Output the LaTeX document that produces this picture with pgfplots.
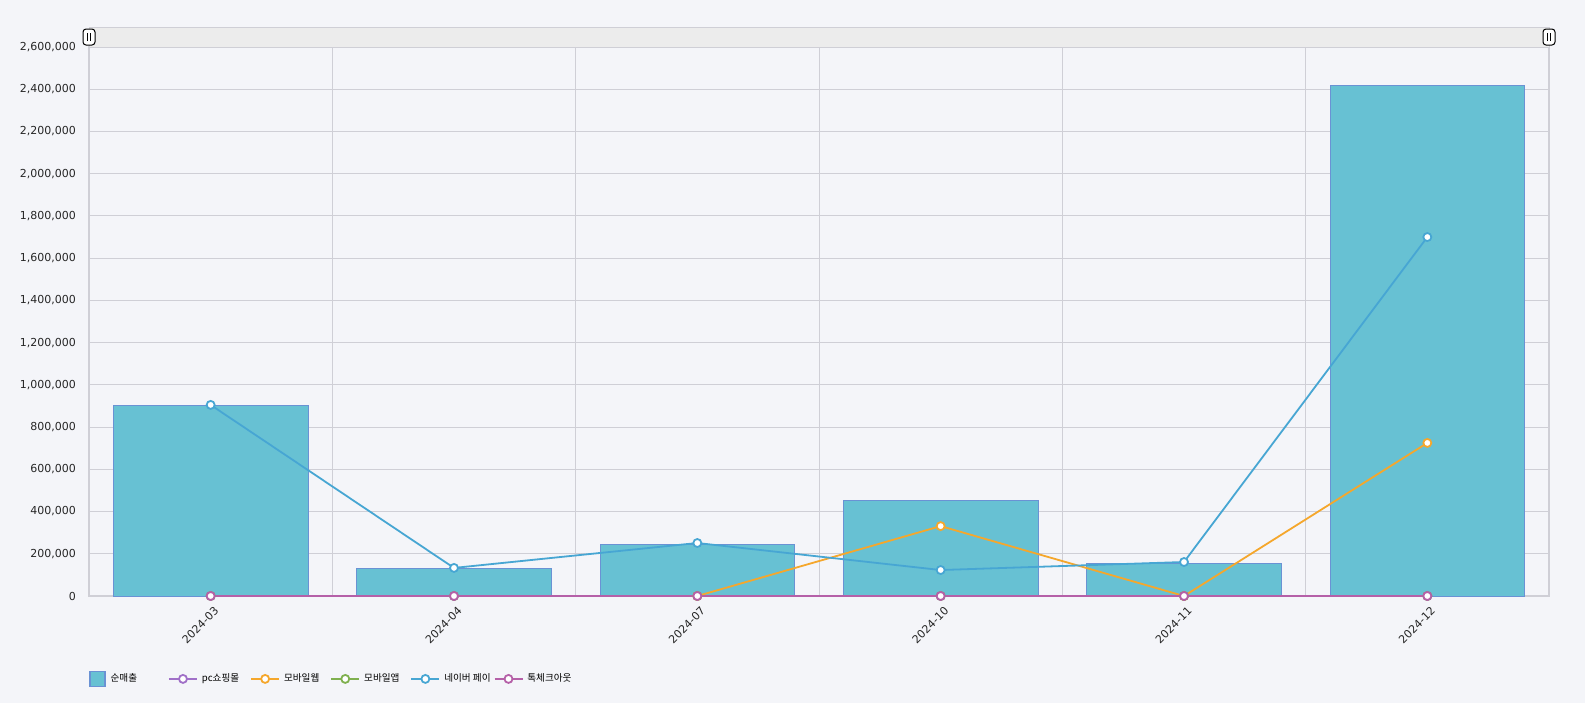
\documentclass[border=0pt]{standalone}
\usepackage{pgfplots}
\pgfplotsset{compat=1.18}
\usepackage{fontspec}
\setmainfont{DejaVu Sans}
\newfontfamily\kr{Noto Sans CJK KR}
\definecolor{bg}{HTML}{F4F5F9}
\definecolor{barfill}{HTML}{67C1D3}
\definecolor{baredge}{HTML}{6A92D4}
\definecolor{naver}{HTML}{47A6D3}
\definecolor{mweb}{HTML}{F5A72C}
\definecolor{mapp}{HTML}{7FB04F}
\definecolor{pcs}{HTML}{A070C8}
\definecolor{talk}{HTML}{B560A8}
\definecolor{gridc}{HTML}{CFCFD6}
\definecolor{scroll}{HTML}{ECECEC}
\begin{document}
\begin{tikzpicture}
\fill[bg] (-44.5pt,-53.5pt) rectangle (748pt,298pt);
\useasboundingbox (-44.5pt,-53.5pt) rectangle (748pt,298pt);
\begin{axis}[
  at={(0,0)}, anchor=south west,
  scale only axis, width=730pt, height=274.5pt,
  xmin=-0.5, xmax=5.5, ymin=0, ymax=2600000,
  clip=false,
  xtick={0,1,2,3,4,5},
  xticklabels={2024-03,2024-04,2024-07,2024-10,2024-11,2024-12},
  minor xtick={0.5,1.5,2.5,3.5,4.5},
  xminorgrids, ymajorgrids,
  ytick={0,200000,...,2600000},
  scaled y ticks=false,
  /pgf/number format/.cd, fixed, 1000 sep={,}, assume math mode=true, /pgfplots/.cd,
  major tick length=0pt, minor tick length=0pt,
  tick label style={font=\fontsize{5.5}{6.5}\selectfont, text=black!85},
  xticklabel style={rotate=45, anchor=north east, yshift=-1pt, xshift=1pt},
  yticklabel style={xshift=-3pt},
  grid style={gridc, line width=0.5pt},
  minor grid style={gridc, line width=0.5pt},
  axis line style={gridc, line width=0.6pt},
  legend columns=6,
  legend style={at={(axis description cs:0,-0.133)}, anchor=north west, draw=none, fill=none,
    font=\kr\fontsize{4.8}{6}\selectfont, inner sep=0pt,
    /tikz/every even column/.append style={column sep=3.5pt}},
  legend cell align=left,
  legend image code/.code={\draw[mark repeat=2, mark phase=2, #1] plot coordinates {(0pt,0pt) (7pt,0pt) (14pt,0pt)};},
]
\addplot[ybar, bar width=0.8, fill=barfill, draw=baredge, line width=0.5pt,
  legend image code/.code={\draw[fill=barfill, draw=baredge, line width=0.6pt] (0pt,-3.75pt) rectangle (7.5pt,3.75pt);}]
  coordinates {(0,902000) (1,128000) (2,246000) (3,450000) (4,156000) (5,2420000)};
\addlegendentry{\kern0.5pt 순매출\kern10pt\null}
\addplot[pcs, line width=0.9pt, mark=*, mark options={fill=white, line width=0.9pt}, mark size=2pt]
  coordinates {(0,0) (1,0) (2,0) (3,0) (4,0) (5,0)};
\addlegendentry{pc쇼핑몰}
\addplot[mweb, line width=0.9pt, mark=*, mark options={fill=white, line width=0.9pt}, mark size=2pt]
  coordinates {(2,0) (3,331000) (4,0) (5,725000)};
\addlegendentry{모바일웹}
\addplot[mapp, line width=0.9pt, mark=*, mark options={fill=white, line width=0.9pt}, mark size=2pt]
  coordinates {(0,0) (1,0) (2,0) (3,0) (4,0) (5,0)};
\addlegendentry{모바일앱}
\addplot[naver, line width=0.9pt, mark=*, mark options={fill=white, line width=0.9pt}, mark size=2pt]
  coordinates {(0,905000) (1,133000) (2,251000) (3,123000) (4,161000) (5,1700000)};
\addlegendentry{네이버 페이\kern-4pt\null}
\addplot[talk, line width=0.9pt, mark=*, mark options={fill=white, line width=0.9pt}, mark size=2pt]
  coordinates {(0,0) (1,0) (2,0) (3,0) (4,0) (5,0)};
\addlegendentry{톡체크아웃}
% scrollbar
\fill[scroll, draw=gridc, line width=0.5pt] (rel axis cs:0,1) rectangle ([yshift=10pt]rel axis cs:1,1);
\draw[fill=white, draw=black, line width=0.5pt, rounded corners=1.5pt]
  ([xshift=-3pt,yshift=1pt]rel axis cs:0,1) rectangle ([xshift=3pt,yshift=9pt]rel axis cs:0,1);
\draw[black, line width=0.4pt] ([xshift=-0.8pt,yshift=3pt]rel axis cs:0,1) -- ([xshift=-0.8pt,yshift=7pt]rel axis cs:0,1);
\draw[black, line width=0.4pt] ([xshift=0.8pt,yshift=3pt]rel axis cs:0,1) -- ([xshift=0.8pt,yshift=7pt]rel axis cs:0,1);
\draw[fill=white, draw=black, line width=0.5pt, rounded corners=1.5pt]
  ([xshift=-3pt,yshift=1pt]rel axis cs:1,1) rectangle ([xshift=3pt,yshift=9pt]rel axis cs:1,1);
\draw[black, line width=0.4pt] ([xshift=-0.8pt,yshift=3pt]rel axis cs:1,1) -- ([xshift=-0.8pt,yshift=7pt]rel axis cs:1,1);
\draw[black, line width=0.4pt] ([xshift=0.8pt,yshift=3pt]rel axis cs:1,1) -- ([xshift=0.8pt,yshift=7pt]rel axis cs:1,1);
\end{axis}
\end{tikzpicture}
\end{document}
